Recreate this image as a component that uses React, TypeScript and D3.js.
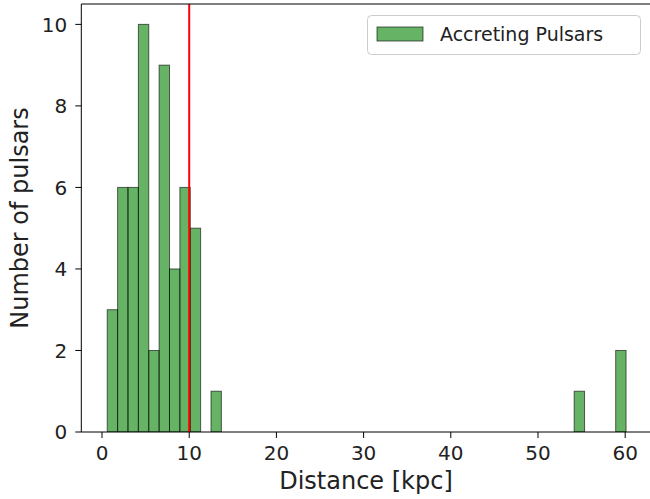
import React from 'react';
import * as d3 from 'd3';

// histogram settings (50 bins between min and max distance)
const histMin = 0.6;
const histMax = 60.1;
const nBins = 50;

// non-empty bins: bin index and count
const binIndex = [0, 1, 2, 3, 4, 5, 6, 7, 8, 10, 45, 49];
const binCounts = [3, 6, 6, 10, 2, 9, 4, 6, 5, 1, 1, 2];

const xTicks = [0, 10, 20, 30, 40, 50, 60];
const yTicks = [0, 2, 4, 6, 8, 10];
const cutoff = 10;

const W = 650;
const H = 499;
const margin = { left: 81.3, top: 4, right: 652, bottom: 432 };
const font = 'DejaVu Sans, sans-serif';

const App = () => {
  const binW = (histMax - histMin) / nBins;
  const pad = (histMax - histMin) * 0.05;
  const x = d3.scaleLinear().domain([histMin - pad, histMax + pad]).range([margin.left, margin.right]);
  const y = d3.scaleLinear().domain([0, 10.5]).range([margin.bottom, margin.top]);

  const bars = binIndex.map((b, i) => ({
    x0: histMin + b * binW,
    x1: histMin + (b + 1) * binW,
    n: binCounts[i],
  }));

  return (
    <svg width={W} height={H} style={{ position: 'absolute', left: 0, top: 0, background: '#fff' }} fontFamily={font}>
      <defs>
        <clipPath id="plot">
          <rect x={margin.left} y={margin.top} width={margin.right - margin.left} height={margin.bottom - margin.top} />
        </clipPath>
      </defs>

      {/* bars */}
      <g clipPath="url(#plot)">
        {bars.map((d, i) => (
          <rect
            key={i}
            x={x(d.x0)}
            y={y(d.n)}
            width={x(d.x1) - x(d.x0)}
            height={y(0) - y(d.n)}
            fill="green"
            fillOpacity={0.6}
            stroke="black"
            strokeOpacity={0.6}
            strokeWidth={1}
          />
        ))}
        <line x1={x(cutoff)} x2={x(cutoff)} y1={margin.top} y2={margin.bottom} stroke="red" strokeWidth={2} />
      </g>

      {/* spines */}
      <g fill="none" stroke="black" strokeWidth={1}>
        <line x1={margin.left} x2={margin.left} y1={margin.top} y2={margin.bottom} />
        <line x1={margin.left} x2={margin.right} y1={margin.bottom} y2={margin.bottom} />
        <line x1={margin.left} x2={margin.right} y1={margin.top} y2={margin.top} />
        <line x1={margin.right} x2={margin.right} y1={margin.top} y2={margin.bottom} />
      </g>

      {/* x axis */}
      {xTicks.map((t) => (
        <g key={t} transform={`translate(${x(t)},${margin.bottom})`}>
          <line y2={6} stroke="black" />
          <text y={28} textAnchor="middle" fontSize={20} fill="#222">{t}</text>
        </g>
      ))}
      <text x={366} y={489} textAnchor="middle" fontSize={24} fill="#222">Distance [kpc]</text>

      {/* y axis */}
      {yTicks.map((t) => (
        <g key={t} transform={`translate(${margin.left},${y(t)})`}>
          <line x2={-6} stroke="black" />
          <text x={-14} dy="0.36em" textAnchor="end" fontSize={20} fill="#222">{t}</text>
        </g>
      ))}
      <text transform={`translate(28,${(margin.top + margin.bottom) / 2}) rotate(-90)`} textAnchor="middle" fontSize={24} fill="#222">
        Number of pulsars
      </text>

      {/* legend */}
      <g>
        <rect x={367.5} y={15.5} width={273} height={39} rx={4} fill="white" fillOpacity={0.8} stroke="#ccc" />
        <rect x={377} y={27} width={46} height={14} fill="green" fillOpacity={0.6} stroke="black" strokeOpacity={0.6} />
        <text x={440} y={41} fontSize={19} fill="#222">Accreting Pulsars</text>
      </g>
    </svg>
  );
};

export default App;
